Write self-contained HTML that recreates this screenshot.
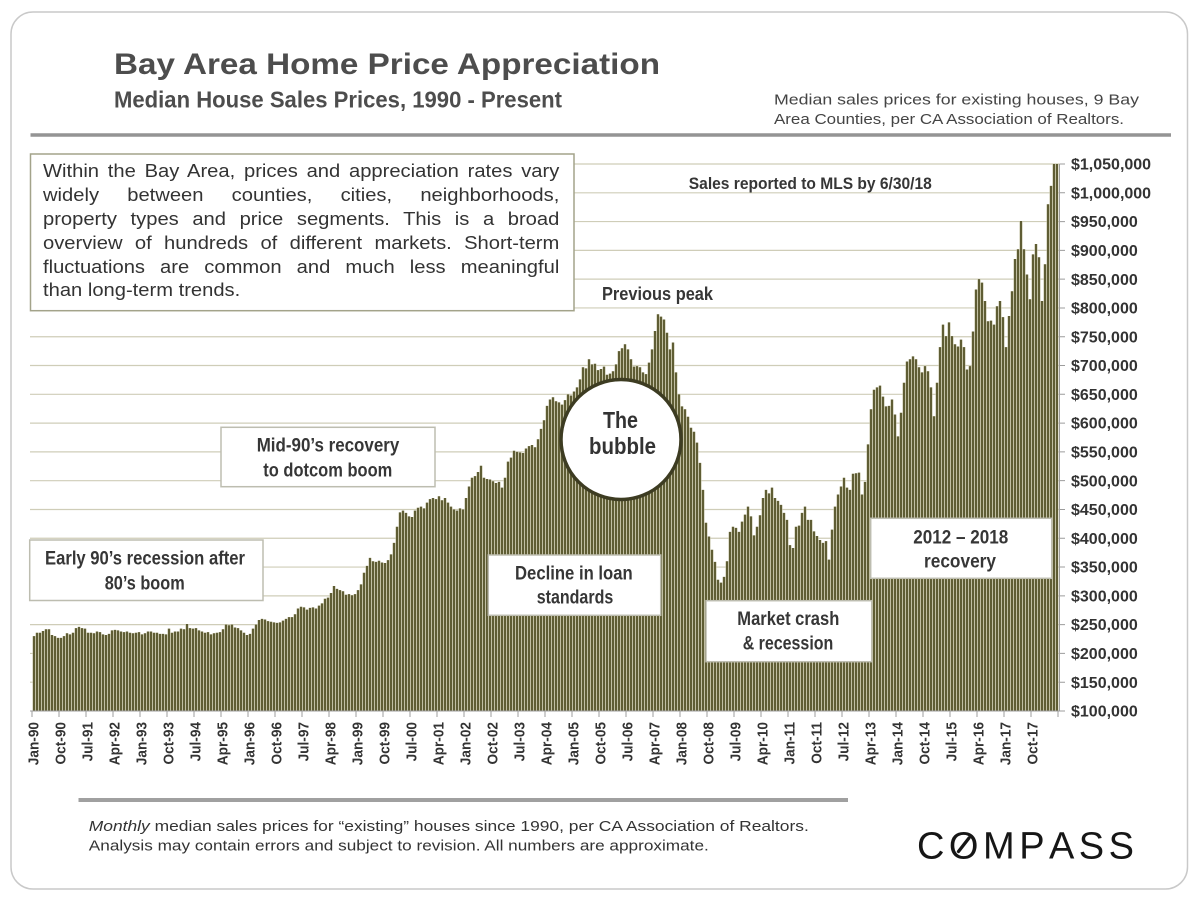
<!DOCTYPE html>
<html>
<head>
<meta charset="utf-8">
<style>
  html,body{margin:0;padding:0;background:#fff;}
  #wrap{position:relative;width:1200px;height:900px;overflow:hidden;background:#fff;}
  svg{position:absolute;left:0;top:0;}
  #para{position:absolute;left:43px;top:160.1px;width:461px;transform:scaleX(1.12);transform-origin:0 0;
        font-family:"Liberation Sans",Arial,sans-serif;font-size:18px;line-height:23.88px;color:#333;}
  #para .j{text-align:justify;text-align-last:justify;}
  #para .l{text-align:left;}
</style>
</head>
<body>
<div id="wrap">
<svg width="1200" height="900" viewBox="0 0 1200 900" xmlns="http://www.w3.org/2000/svg" font-family="'Liberation Sans', Arial, sans-serif">
  <defs>
    <path id="bars" d="M0 100V230M1 100V236M2 100V236M3 100V239M4 100V242M5 100V242M6 100V232M7 100V230M8 100V227M9 100V227M10 100V230M11 100V235M12 100V233M13 100V236M14 100V244M15 100V246M16 100V244M17 100V243M18 100V236M19 100V236M20 100V235M21 100V238M22 100V237M23 100V233M24 100V232M25 100V234M26 100V240M27 100V241M28 100V240M29 100V238M30 100V237M31 100V238M32 100V236M33 100V235M34 100V236M35 100V237M36 100V233M37 100V235M38 100V238M39 100V238M40 100V236M41 100V236M42 100V234M43 100V234M44 100V233M45 100V243M46 100V236M47 100V238M48 100V238M49 100V243M50 100V242M51 100V251M52 100V244M53 100V243M54 100V244M55 100V240M56 100V238M57 100V236M58 100V237M59 100V233M60 100V235M61 100V236M62 100V237M63 100V242M64 100V250M65 100V249M66 100V250M67 100V245M68 100V244M69 100V240M70 100V236M71 100V232M72 100V234M73 100V243M74 100V250M75 100V258M76 100V260M77 100V259M78 100V256M79 100V255M80 100V254M81 100V253M82 100V254M83 100V257M84 100V260M85 100V263M86 100V263M87 100V268M88 100V278M89 100V281M90 100V280M91 100V276M92 100V279M93 100V280M94 100V278M95 100V283M96 100V287M97 100V295M98 100V297M99 100V305M100 100V317M101 100V312M102 100V310M103 100V308M104 100V302M105 100V303M106 100V301M107 100V303M108 100V310M109 100V320M110 100V340M111 100V352M112 100V366M113 100V360M114 100V359M115 100V361M116 100V358M117 100V357M118 100V362M119 100V372M120 100V392M121 100V420M122 100V445M123 100V448M124 100V444M125 100V438M126 100V437M127 100V448M128 100V453M129 100V455M130 100V452M131 100V462M132 100V468M133 100V470M134 100V468M135 100V473M136 100V466M137 100V470M138 100V462M139 100V455M140 100V450M141 100V448M142 100V452M143 100V450M144 100V470M145 100V490M146 100V505M147 100V508M148 100V515M149 100V526M150 100V505M151 100V503M152 100V502M153 100V499M154 100V496M155 100V498M156 100V488M157 100V505M158 100V533M159 100V540M160 100V552M161 100V550M162 100V549M163 100V548M164 100V556M165 100V560M166 100V562M167 100V558M168 100V572M169 100V590M170 100V605M171 100V630M172 100V641M173 100V645M174 100V638M175 100V636M176 100V632M177 100V640M178 100V650M179 100V648M180 100V655M181 100V662M182 100V676M183 100V697M184 100V695M185 100V711M186 100V702M187 100V703M188 100V692M189 100V694M190 100V698M191 100V684M192 100V686M193 100V690M194 100V702M195 100V725M196 100V730M197 100V737M198 100V728M199 100V711M200 100V698M201 100V699M202 100V697M203 100V688M204 100V685M205 100V705M206 100V728M207 100V760M208 100V789M209 100V785M210 100V780M211 100V757M212 100V728M213 100V740M214 100V688M215 100V650M216 100V629M217 100V624M218 100V611M219 100V592M220 100V585M221 100V566M222 100V531M223 100V484M224 100V427M225 100V403M226 100V380M227 100V359M228 100V328M229 100V323M230 100V333M231 100V360M232 100V411M233 100V420M234 100V418M235 100V411M236 100V429M237 100V441M238 100V455M239 100V438M240 100V405M241 100V420M242 100V440M243 100V470M244 100V484M245 100V478M246 100V488M247 100V470M248 100V465M249 100V458M250 100V444M251 100V432M252 100V388M253 100V383M254 100V420M255 100V422M256 100V444M257 100V455M258 100V432M259 100V432M260 100V412M261 100V404M262 100V397M263 100V392M264 100V395M265 100V363M266 100V415M267 100V455M268 100V476M269 100V490M270 100V505M271 100V488M272 100V484M273 100V512M274 100V513M275 100V514M276 100V476M277 100V498M278 100V563M279 100V624M280 100V658M281 100V662M282 100V665M283 100V646M284 100V629M285 100V630M286 100V641M287 100V615M288 100V577M289 100V618M290 100V670M291 100V707M292 100V711M293 100V716M294 100V711M295 100V697M296 100V688M297 100V699M298 100V690M299 100V662M300 100V612M301 100V670M302 100V732M303 100V771M304 100V751M305 100V775M306 100V751M307 100V737M308 100V733M309 100V745M310 100V732M311 100V693M312 100V699M313 100V759M314 100V832M315 100V850M316 100V844M317 100V812M318 100V777M319 100V778M320 100V771M321 100V803M322 100V812M323 100V784M324 100V732M325 100V786M326 100V829M327 100V885M328 100V902M329 100V951M330 100V902M331 100V858M332 100V815M333 100V893M334 100V911M335 100V888M336 100V812M337 100V876M338 100V980M339 100V1012M340 100V1050M341 100V1050"/>
  </defs>

  <!-- card -->
  <rect x="11" y="12" width="1176.5" height="877" rx="22" ry="22" fill="#fff" stroke="#c9c9c9" stroke-width="1.5"/>

  <!-- title -->
  <text x="114" y="74" font-size="30" font-weight="bold" fill="#4d4d4d" textLength="546" lengthAdjust="spacingAndGlyphs">Bay Area Home Price Appreciation</text>
  <text x="114" y="107.3" font-size="23" font-weight="bold" fill="#4d4d4d" textLength="448" lengthAdjust="spacingAndGlyphs">Median House Sales Prices, 1990 - Present</text>

  <!-- right note -->
  <text x="774" y="104.3" font-size="15" fill="#444" textLength="365" lengthAdjust="spacingAndGlyphs">Median sales prices for existing houses, 9 Bay</text>
  <text x="774" y="124" font-size="15" fill="#444" textLength="350" lengthAdjust="spacingAndGlyphs">Area Counties, per CA Association of Realtors.</text>

  <!-- top rule -->
  <line x1="30.5" y1="135" x2="1171" y2="135" stroke="#949494" stroke-width="3.5"/>

  <!-- gridlines -->
  <g stroke="#cfcdb8" stroke-width="1.2">
    <line x1="30" y1="164" x2="1060" y2="164"/>
    <line x1="30" y1="192.79" x2="1060" y2="192.79"/>
    <line x1="30" y1="221.58" x2="1060" y2="221.58"/>
    <line x1="30" y1="250.37" x2="1060" y2="250.37"/>
    <line x1="30" y1="279.16" x2="1060" y2="279.16"/>
    <line x1="30" y1="307.95" x2="1060" y2="307.95"/>
    <line x1="30" y1="336.74" x2="1060" y2="336.74"/>
    <line x1="30" y1="365.53" x2="1060" y2="365.53"/>
    <line x1="30" y1="394.32" x2="1060" y2="394.32"/>
    <line x1="30" y1="423.11" x2="1060" y2="423.11"/>
    <line x1="30" y1="451.89" x2="1060" y2="451.89"/>
    <line x1="30" y1="480.68" x2="1060" y2="480.68"/>
    <line x1="30" y1="509.47" x2="1060" y2="509.47"/>
    <line x1="30" y1="538.26" x2="1060" y2="538.26"/>
    <line x1="30" y1="567.05" x2="1060" y2="567.05"/>
    <line x1="30" y1="595.84" x2="1060" y2="595.84"/>
    <line x1="30" y1="624.63" x2="1060" y2="624.63"/>
    <line x1="30" y1="653.42" x2="1060" y2="653.42"/>
    <line x1="30" y1="682.21" x2="1060" y2="682.21"/>
  </g>

  <!-- bars: cream underlay for gaps, then olive bars -->
  <g transform="translate(34,768.58) scale(3,-0.57579)" fill="none">
    <use href="#bars" stroke="#ecead2" stroke-width="1"/>
    <use href="#bars" stroke="#5f5d34" stroke-width="0.7667"/>
  </g>

  <!-- axes -->
  <line x1="30" y1="711" x2="1060" y2="711" stroke="#9c9c9c" stroke-width="1"/>
  <line x1="1059.5" y1="164" x2="1059.5" y2="711" stroke="#9c9c9c" stroke-width="1"/>
  <line x1="31.5" y1="714" x2="1062" y2="714" stroke="#9c9c9c" stroke-width="6" stroke-dasharray="1 26"/>
  <line x1="1062.5" y1="163.5" x2="1062.5" y2="712" stroke="#9c9c9c" stroke-width="5" stroke-dasharray="1 27.789"/>

  <!-- y-axis labels -->
  <g font-size="16" font-weight="bold" fill="#333">
    <text x="1071" y="169.6">$1,050,000</text>
    <text x="1071" y="198.4">$1,000,000</text>
    <text x="1071" y="227.2">$950,000</text>
    <text x="1071" y="256">$900,000</text>
    <text x="1071" y="284.8">$850,000</text>
    <text x="1071" y="313.6">$800,000</text>
    <text x="1071" y="342.3">$750,000</text>
    <text x="1071" y="371.1">$700,000</text>
    <text x="1071" y="399.9">$650,000</text>
    <text x="1071" y="428.7">$600,000</text>
    <text x="1071" y="457.5">$550,000</text>
    <text x="1071" y="486.3">$500,000</text>
    <text x="1071" y="515.1">$450,000</text>
    <text x="1071" y="543.9">$400,000</text>
    <text x="1071" y="572.7">$350,000</text>
    <text x="1071" y="601.4">$300,000</text>
    <text x="1071" y="630.2">$250,000</text>
    <text x="1071" y="659">$200,000</text>
    <text x="1071" y="687.8">$150,000</text>
    <text x="1071" y="716.6">$100,000</text>
  </g>

  <!-- x-axis labels -->
  <g font-size="15" font-weight="bold" fill="#333" text-anchor="end">
    <text transform="translate(38.5,722) rotate(-90) scale(0.91,1)">Jan-90</text>
    <text transform="translate(65.5,722) rotate(-90) scale(0.91,1)">Oct-90</text>
    <text transform="translate(92.5,722) rotate(-90) scale(0.91,1)">Jul-91</text>
    <text transform="translate(119.5,722) rotate(-90) scale(0.91,1)">Apr-92</text>
    <text transform="translate(146.5,722) rotate(-90) scale(0.91,1)">Jan-93</text>
    <text transform="translate(173.5,722) rotate(-90) scale(0.91,1)">Oct-93</text>
    <text transform="translate(200.5,722) rotate(-90) scale(0.91,1)">Jul-94</text>
    <text transform="translate(227.5,722) rotate(-90) scale(0.91,1)">Apr-95</text>
    <text transform="translate(254.5,722) rotate(-90) scale(0.91,1)">Jan-96</text>
    <text transform="translate(281.5,722) rotate(-90) scale(0.91,1)">Oct-96</text>
    <text transform="translate(308.5,722) rotate(-90) scale(0.91,1)">Jul-97</text>
    <text transform="translate(335.5,722) rotate(-90) scale(0.91,1)">Apr-98</text>
    <text transform="translate(362.5,722) rotate(-90) scale(0.91,1)">Jan-99</text>
    <text transform="translate(389.5,722) rotate(-90) scale(0.91,1)">Oct-99</text>
    <text transform="translate(416.5,722) rotate(-90) scale(0.91,1)">Jul-00</text>
    <text transform="translate(443.5,722) rotate(-90) scale(0.91,1)">Apr-01</text>
    <text transform="translate(470.5,722) rotate(-90) scale(0.91,1)">Jan-02</text>
    <text transform="translate(497.5,722) rotate(-90) scale(0.91,1)">Oct-02</text>
    <text transform="translate(524.5,722) rotate(-90) scale(0.91,1)">Jul-03</text>
    <text transform="translate(551.5,722) rotate(-90) scale(0.91,1)">Apr-04</text>
    <text transform="translate(578.5,722) rotate(-90) scale(0.91,1)">Jan-05</text>
    <text transform="translate(605.5,722) rotate(-90) scale(0.91,1)">Oct-05</text>
    <text transform="translate(632.5,722) rotate(-90) scale(0.91,1)">Jul-06</text>
    <text transform="translate(659.5,722) rotate(-90) scale(0.91,1)">Apr-07</text>
    <text transform="translate(686.5,722) rotate(-90) scale(0.91,1)">Jan-08</text>
    <text transform="translate(713.5,722) rotate(-90) scale(0.91,1)">Oct-08</text>
    <text transform="translate(740.5,722) rotate(-90) scale(0.91,1)">Jul-09</text>
    <text transform="translate(767.5,722) rotate(-90) scale(0.91,1)">Apr-10</text>
    <text transform="translate(794.5,722) rotate(-90) scale(0.91,1)">Jan-11</text>
    <text transform="translate(821.5,722) rotate(-90) scale(0.91,1)">Oct-11</text>
    <text transform="translate(848.5,722) rotate(-90) scale(0.91,1)">Jul-12</text>
    <text transform="translate(875.5,722) rotate(-90) scale(0.91,1)">Apr-13</text>
    <text transform="translate(902.5,722) rotate(-90) scale(0.91,1)">Jan-14</text>
    <text transform="translate(929.5,722) rotate(-90) scale(0.91,1)">Oct-14</text>
    <text transform="translate(956.5,722) rotate(-90) scale(0.91,1)">Jul-15</text>
    <text transform="translate(983.5,722) rotate(-90) scale(0.91,1)">Apr-16</text>
    <text transform="translate(1010.5,722) rotate(-90) scale(0.91,1)">Jan-17</text>
    <text transform="translate(1037.5,722) rotate(-90) scale(0.91,1)">Oct-17</text>
  </g>

  <!-- paragraph box -->
  <rect x="30.5" y="154" width="543.5" height="156.7" fill="#fff" stroke="#a3a38a" stroke-width="1.5"/>

  <!-- annotation boxes -->
  <g fill="#fff" stroke="#bdbdb0" stroke-width="1.5">
    <rect x="221" y="427.3" width="214" height="59.4"/>
    <rect x="29.7" y="540" width="233.3" height="60.5"/>
    <rect x="488.3" y="555" width="172.4" height="60.3"/>
    <rect x="706" y="600.7" width="165.7" height="61"/>
    <rect x="870.7" y="518.3" width="181" height="60"/>
  </g>

  <g font-size="19.5" font-weight="bold" fill="#363636">
    <text x="256.7" y="451.7" textLength="142.6" lengthAdjust="spacingAndGlyphs">Mid-90’s recovery</text>
    <text x="263.3" y="476.7" textLength="129" lengthAdjust="spacingAndGlyphs">to dotcom boom</text>
    <text x="45" y="564.3" textLength="200" lengthAdjust="spacingAndGlyphs">Early 90’s recession after</text>
    <text x="104.7" y="589.3" textLength="80" lengthAdjust="spacingAndGlyphs">80’s boom</text>
    <text x="515" y="579.3" textLength="117.7" lengthAdjust="spacingAndGlyphs">Decline in loan</text>
    <text x="536.7" y="603.3" textLength="76.6" lengthAdjust="spacingAndGlyphs">standards</text>
    <text x="737.3" y="625" textLength="102" lengthAdjust="spacingAndGlyphs">Market crash</text>
    <text x="742.7" y="649.3" textLength="90.6" lengthAdjust="spacingAndGlyphs">&amp; recession</text>
    <text x="913.3" y="543.3" textLength="95" lengthAdjust="spacingAndGlyphs">2012 – 2018</text>
    <text x="924" y="567.3" textLength="72" lengthAdjust="spacingAndGlyphs">recovery</text>
  </g>

  <text x="688.8" y="189" font-size="17" font-weight="bold" fill="#363636" textLength="243" lengthAdjust="spacingAndGlyphs">Sales reported to MLS by 6/30/18</text>
  <text x="602" y="300" font-size="18.5" font-weight="bold" fill="#363636" textLength="111" lengthAdjust="spacingAndGlyphs">Previous peak</text>

  <!-- bubble -->
  <circle cx="621" cy="439.5" r="60" fill="#fff" stroke="#3d3c22" stroke-width="3.5"/>
  <text x="603" y="428" font-size="23" font-weight="bold" fill="#333" textLength="35" lengthAdjust="spacingAndGlyphs">The</text>
  <text x="589" y="454" font-size="23" font-weight="bold" fill="#333" textLength="67" lengthAdjust="spacingAndGlyphs">bubble</text>

  <!-- footer -->
  <line x1="78.5" y1="800" x2="848" y2="800" stroke="#a0a0a0" stroke-width="4"/>
  <text x="88.8" y="831" font-size="15" fill="#333" textLength="720" lengthAdjust="spacingAndGlyphs"><tspan font-style="italic">Monthly</tspan> median sales prices for “existing” houses since 1990, per CA Association of Realtors.</text>
  <text x="88.8" y="850.7" font-size="15" fill="#333" textLength="620" lengthAdjust="spacingAndGlyphs">Analysis may contain errors and subject to revision. All numbers are approximate.</text>

  <!-- logo -->
  <text y="858.3" font-size="38" fill="#161616" x="917 948.9 983 1019.2 1049 1078.8 1108.6">COMPASS</text>
  <line x1="958.5" y1="851.5" x2="969" y2="838" stroke="#161616" stroke-width="3.3" stroke-linecap="round"/>
</svg>

<div id="para">
  <div class="j">Within the Bay Area, prices and appreciation rates vary</div>
  <div class="j">widely between counties, cities, neighborhoods,</div>
  <div class="j">property types and price segments. This is a broad</div>
  <div class="j">overview of hundreds of different markets. Short-term</div>
  <div class="j">fluctuations are common and much less meaningful</div>
  <div class="l">than long-term trends.</div>
</div>
</div>
</body>
</html>
